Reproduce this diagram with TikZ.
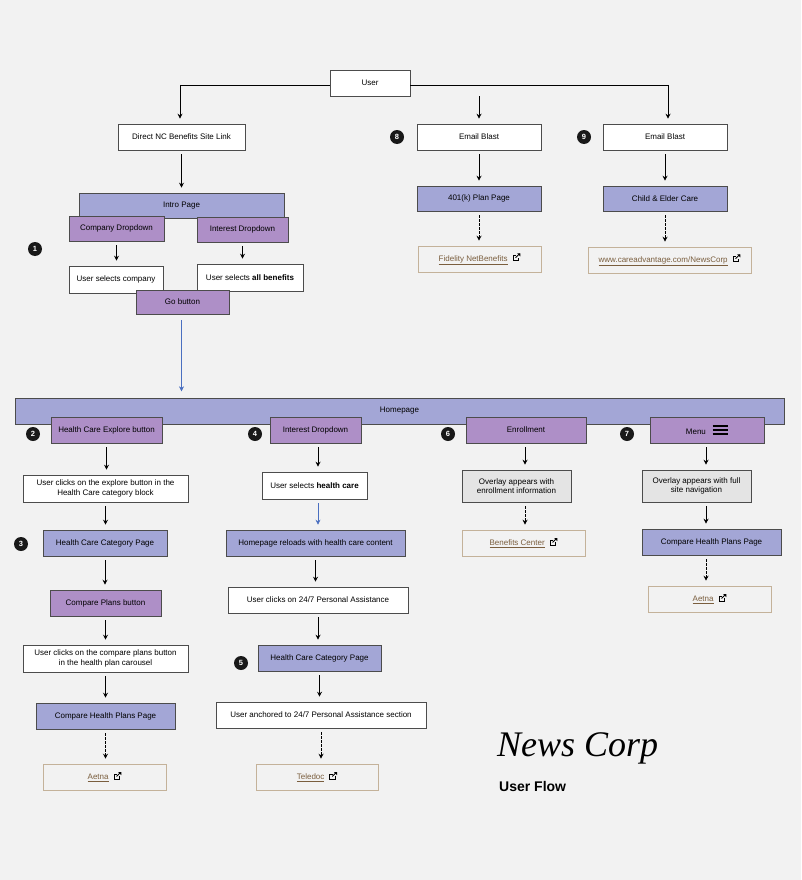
\documentclass[tikz,border=0pt]{standalone}
\usepackage{fontspec}
\setmainfont{Liberation Sans}
\newfontfamily\logofont{Liberation Serif}
\usetikzlibrary{arrows.meta}
\definecolor{bgc}{HTML}{F2F2F2}
\definecolor{bluec}{HTML}{A3A6D6}
\definecolor{purc}{HTML}{AE8FC7}
\definecolor{grayc}{HTML}{E4E4E4}
\definecolor{tanc}{HTML}{C4B29A}
\definecolor{linkc}{HTML}{7A5E3E}
\definecolor{arrblue}{HTML}{4A6FC0}
\newcommand{\extlink}{\tikz[baseline=-0.5pt,x=1pt,y=1pt]{\draw[line width=0.8pt](0,0) rectangle (5.5,5.5);\fill[bgc](3,3) rectangle (7,7);\draw[line width=0.9pt](2.5,3)--(6.5,7);\fill(4.2,7.3)--(7.3,7.3)--(7.3,4.2)--cycle;}}
\newcommand{\lnk}[1]{\textcolor{linkc}{\underline{#1}}}
\tikzset{
 base/.style={draw=black!70, line width=0.6pt, font=\fontsize{8}{9.5}\selectfont, align=center, inner sep=1pt},
 wbox/.style={base, fill=white},
 bbox/.style={base, fill=bluec},
 pbox/.style={base, fill=purc},
 gbox/.style={base, fill=grayc},
 tbox/.style={base, draw=tanc, fill=bgc},
 arr/.style={-{Stealth[length=5pt,width=5pt]}, line width=0.9pt, shorten <=4pt, shorten >=5pt},
 darr/.style={arr, dash pattern=on 2.5pt off 1.5pt},
 barr/.style={arr, draw=arrblue, fill=arrblue, line width=0.6pt},
 badge/.style={circle, fill=black!90, text=white, inner sep=0pt, minimum size=14pt, font=\fontsize{7.5}{8}\selectfont\bfseries},
}
\newcommand{\bx}[7]{\node[#6, minimum width={#4-#2}, minimum height={#5-#3}, inner sep=0pt] (#1) at ({(#2+#4)/2},{(#3+#5)/2}) {#7};}
\newcommand{\ar}[3][arr]{\draw[#1] (#2.south) -- (#2.south |- #3.north);}
\begin{document}
\begin{tikzpicture}[x=1pt,y=-1pt]
\fill[bgc] (0,0) rectangle (801,880);
\useasboundingbox (0,0) rectangle (801,880);
% top
\bx{user}{330}{70}{410}{96}{wbox}{User}
\bx{direct}{118}{124}{245}{150}{wbox}{Direct NC Benefits Site Link}
\bx{eb8}{417}{124}{541}{150}{wbox}{Email Blast}
\bx{eb9}{603}{124}{727}{150}{wbox}{Email Blast}
\node[badge] (b8) at (397,137) {8};
\node[badge] (b9) at (584,137) {9};
\coordinate (tl) at (180,85);
\coordinate (tr) at (668,85);
\draw[line width=0.9pt] (user.west |- tl) -- (tl);
\draw[arr, shorten <=0pt] (tl) -- (tl |- direct.north);
\draw[line width=0.9pt] (user.east |- tr) -- (tr);
\draw[arr, shorten <=0pt] (tr) -- (tr |- eb9.north);
\draw[arr, shorten <=0pt] (user.south -| eb8.north) -- (eb8.north);
% intro
\bx{intro}{79}{193}{284}{218}{bbox}{Intro Page}
\bx{compdd}{69}{216}{164}{241}{pbox}{Company Dropdown}
\bx{intdd}{197}{217}{288}{242}{pbox}{Interest Dropdown}
\node[badge] (b1) at (35,249) {1};
\ar{direct}{intro}
\bx{selcomp}{69}{266}{163}{293}{wbox}{User selects company}
\bx{selall}{197}{264}{303}{291}{wbox}{User selects \textbf{all benefits}}
\bx{go}{136}{290}{229}{314}{pbox}{Go button}
\ar{compdd}{selcomp}
\ar{intdd}{selall}
% right columns top
\bx{k401}{417}{186}{541}{211}{bbox}{401(k) Plan Page}
\bx{fid}{418}{246}{541}{272}{tbox}{\lnk{Fidelity NetBenefits}\hspace{5pt}\extlink}
\bx{child}{603}{186}{727}{211}{bbox}{Child \& Elder Care}
\bx{care}{588}{247}{751}{273}{tbox}{\lnk{www.careadvantage.com/NewsCorp}\hspace{5pt}\extlink}
\ar{eb8}{k401}
\ar[darr]{k401}{fid}
\ar{eb9}{child}
\ar[darr]{child}{care}
% homepage
\bx{home}{15}{398}{784}{424}{bbox}{Homepage}
\draw[barr] ([xshift=-1pt]go.south) ++(0,2) -- ++(0,80);
\bx{hce}{51}{417}{162}{443}{pbox}{Health Care Explore button}
\bx{idd}{270}{417}{361}{443}{pbox}{Interest Dropdown}
\bx{enr}{466}{417}{586}{443}{pbox}{Enrollment}
\bx{menu}{650}{417}{764}{443}{pbox}{Menu\hspace{6pt}\tikz[baseline=0pt,x=1pt,y=1pt]{\draw[line width=1.2pt](0,0)--(15,0)(0,4)--(15,4)(0,8)--(15,8);}}
\node[badge] at (33,434) {2};
\node[badge] at (255,434) {4};
\node[badge] at (448,434) {6};
\node[badge] at (627,434) {7};
% col 1
\bx{uce}{23}{475}{188}{502}{wbox}{User clicks on the explore button in the\\Health Care category block}
\bx{hccp}{43}{530}{167}{556}{bbox}{Health Care Category Page}
\bx{cpb}{50}{590}{161}{616}{pbox}{Compare Plans button}
\bx{ucc}{23}{645}{188}{672}{wbox}{User clicks on the compare plans button\\in the health plan carousel}
\bx{chp}{36}{703}{175}{729}{bbox}{Compare Health Plans Page}
\bx{aetna1}{43}{764}{166}{790}{tbox}{\lnk{Aetna}\hspace{5pt}\extlink}
\node[badge] at (21,544) {3};
\ar{hce}{uce}\ar{uce}{hccp}\ar{hccp}{cpb}\ar{cpb}{ucc}\ar{ucc}{chp}\ar[darr]{chp}{aetna1}
% col 2
\bx{ushc}{262}{472}{367}{499}{wbox}{User selects \textbf{health care}}
\bx{hrl}{226}{530}{405}{556}{bbox}{Homepage reloads with health care content}
\bx{uc247}{228}{587}{408}{613}{wbox}{User clicks on 24/7 Personal Assistance}
\bx{hccp2}{258}{645}{381}{671}{bbox}{Health Care Category Page}
\bx{uanc}{216}{702}{426}{728}{wbox}{User anchored to 24/7 Personal Assistance section}
\bx{tele}{256}{764}{378}{790}{tbox}{\lnk{Teledoc}\hspace{5pt}\extlink}
\node[badge] at (241,663) {5};
\coordinate (c2x) at (318,0);
\draw[barr] (ushc.south -| c2x) -- (hrl.north -| c2x);
\draw[arr] (idd.south -| c2x) -- (ushc.north -| c2x);
\ar{hrl}{uc247}\ar{uc247}{hccp2}\ar{hccp2}{uanc}\ar[darr]{uanc}{tele}
% col 3
\coordinate (c3x) at (525,0);
\bx{ovl1}{462}{470}{571}{502}{gbox}{Overlay appears with\\enrollment information}
\bx{benc}{462}{530}{585}{556}{tbox}{\lnk{Benefits Center}\hspace{5pt}\extlink}
\draw[arr] (enr.south -| c3x) -- (ovl1.north -| c3x);
\draw[darr] (ovl1.south -| c3x) -- (benc.north -| c3x);
% col 4
\coordinate (c4x) at (706,0);
\bx{ovl2}{642}{470}{751}{502}{gbox}{Overlay appears with full\\site navigation}
\bx{chp2}{642}{529}{781}{555}{bbox}{Compare Health Plans Page}
\bx{aetna2}{648}{586}{771}{612}{tbox}{\lnk{Aetna}\hspace{5pt}\extlink}
\draw[arr] (menu.south -| c4x) -- (ovl2.north -| c4x);
\draw[arr] (ovl2.south -| c4x) -- (chp2.north -| c4x);
\draw[darr] (chp2.south -| c4x) -- (aetna2.north -| c4x);
% logo
\node[anchor=west, font=\logofont\itshape\fontsize{36}{36}\selectfont, inner sep=0pt] (logo) at (497,748) {News Corp};
\node[anchor=west, font=\bfseries\fontsize{14}{14}\selectfont, inner sep=0pt] (uf) at (499,786) {User Flow};
\end{tikzpicture}
\end{document}
